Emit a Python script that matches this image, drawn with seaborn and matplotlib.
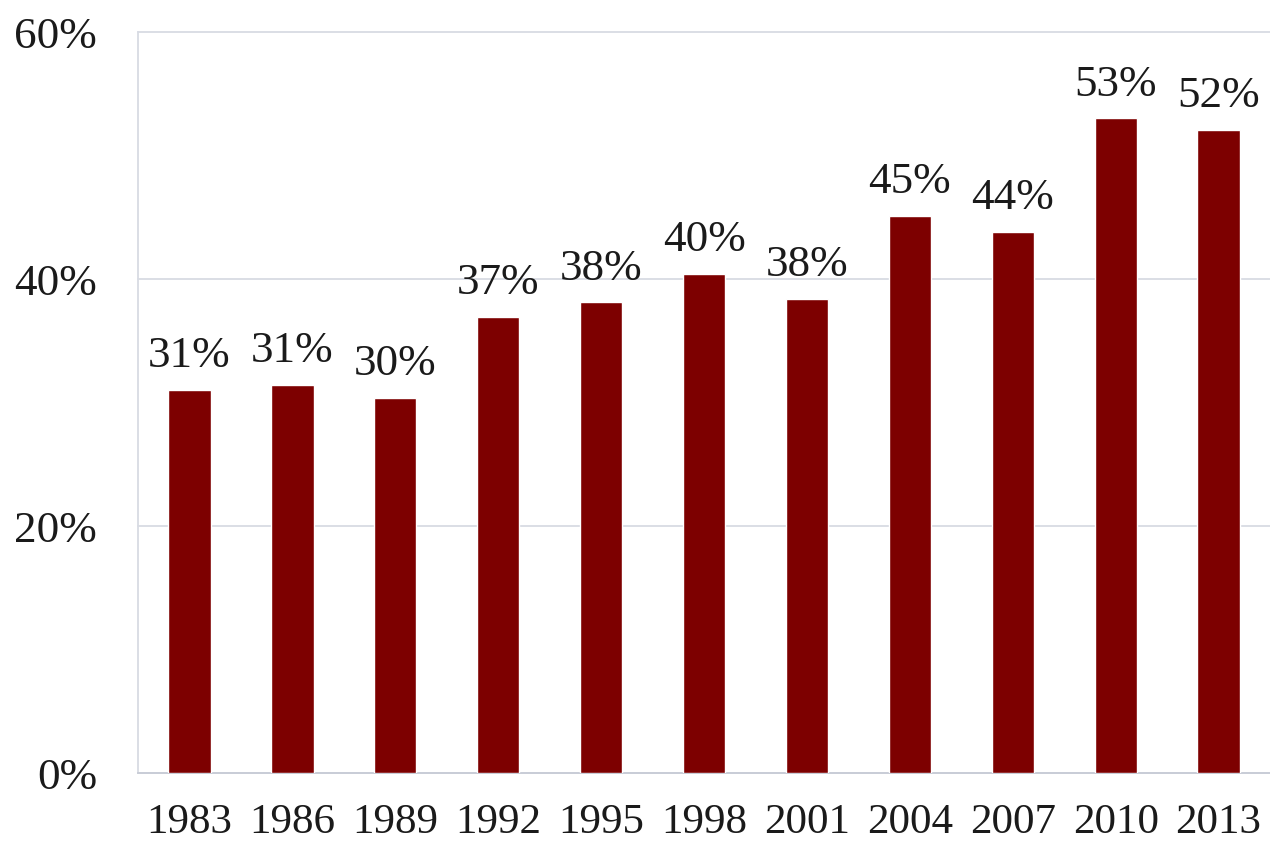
import matplotlib
matplotlib.use("Agg")
import matplotlib.pyplot as plt
import seaborn as sns
import pandas as pd
import numpy as np

years = ["1983", "1986", "1989", "1992", "1995", "1998", "2001", "2004", "2007", "2010", "2013"]
values = [31.0, 31.4, 30.4, 36.9, 38.1, 40.4, 38.4, 45.1, 43.8, 53.0, 52.1]
yticks = [0, 20, 40, 60]

sns.set_theme(style="white")
plt.rcParams['font.family'] = ['Liberation Serif', 'DejaVu Serif']

df = pd.DataFrame({"year": years, "value": values})

fig = plt.figure(figsize=(12.7, 8.43), dpi=100)
ax = fig.add_axes([0.1087, 0.0830, 0.8913, 0.8790])

sns.barplot(data=df, x="year", y="value", color="#7d0000", saturation=1,
            width=0.41, ax=ax, zorder=3)

ax.set_ylim(0, 60)
ax.set_xlim(-0.5, 10.36)
ax.set_yticks(yticks)
ax.set_yticklabels([f"{t}%" for t in yticks])
ax.set_xlabel("")
ax.set_ylabel("")

grid_color = "#d8dbe3"
for t in yticks:
    ax.axhline(t, color=grid_color, lw=1.3, zorder=1, clip_on=False)

for s in ["top", "right"]:
    ax.spines[s].set_visible(False)
ax.spines["left"].set_color(grid_color)
ax.spines["left"].set_linewidth(1.3)
ax.spines["bottom"].set_color("#c8ccd6")
ax.spines["bottom"].set_linewidth(1.3)

ax.tick_params(axis="y", length=11.5, color=grid_color, width=1.3, labelsize=32.5, pad=18)
ax.tick_params(axis="x", length=0, labelsize=31, pad=22)
ax.tick_params(labelcolor="#1a1a1a")

# category boundary tick marks
ax.set_xticks(np.arange(len(years) + 1) - 0.5, minor=True)
ax.tick_params(axis="x", which="minor", length=10, color="#d0d4dc", width=1.3)

for i, v in enumerate(values):
    ax.annotate(f"{round(v)}%", (i, v), xytext=(0, 10), textcoords="offset points",
                ha="center", va="bottom", fontsize=32.5, color="#1a1a1a")

fig.savefig("out.png", dpi=100)
